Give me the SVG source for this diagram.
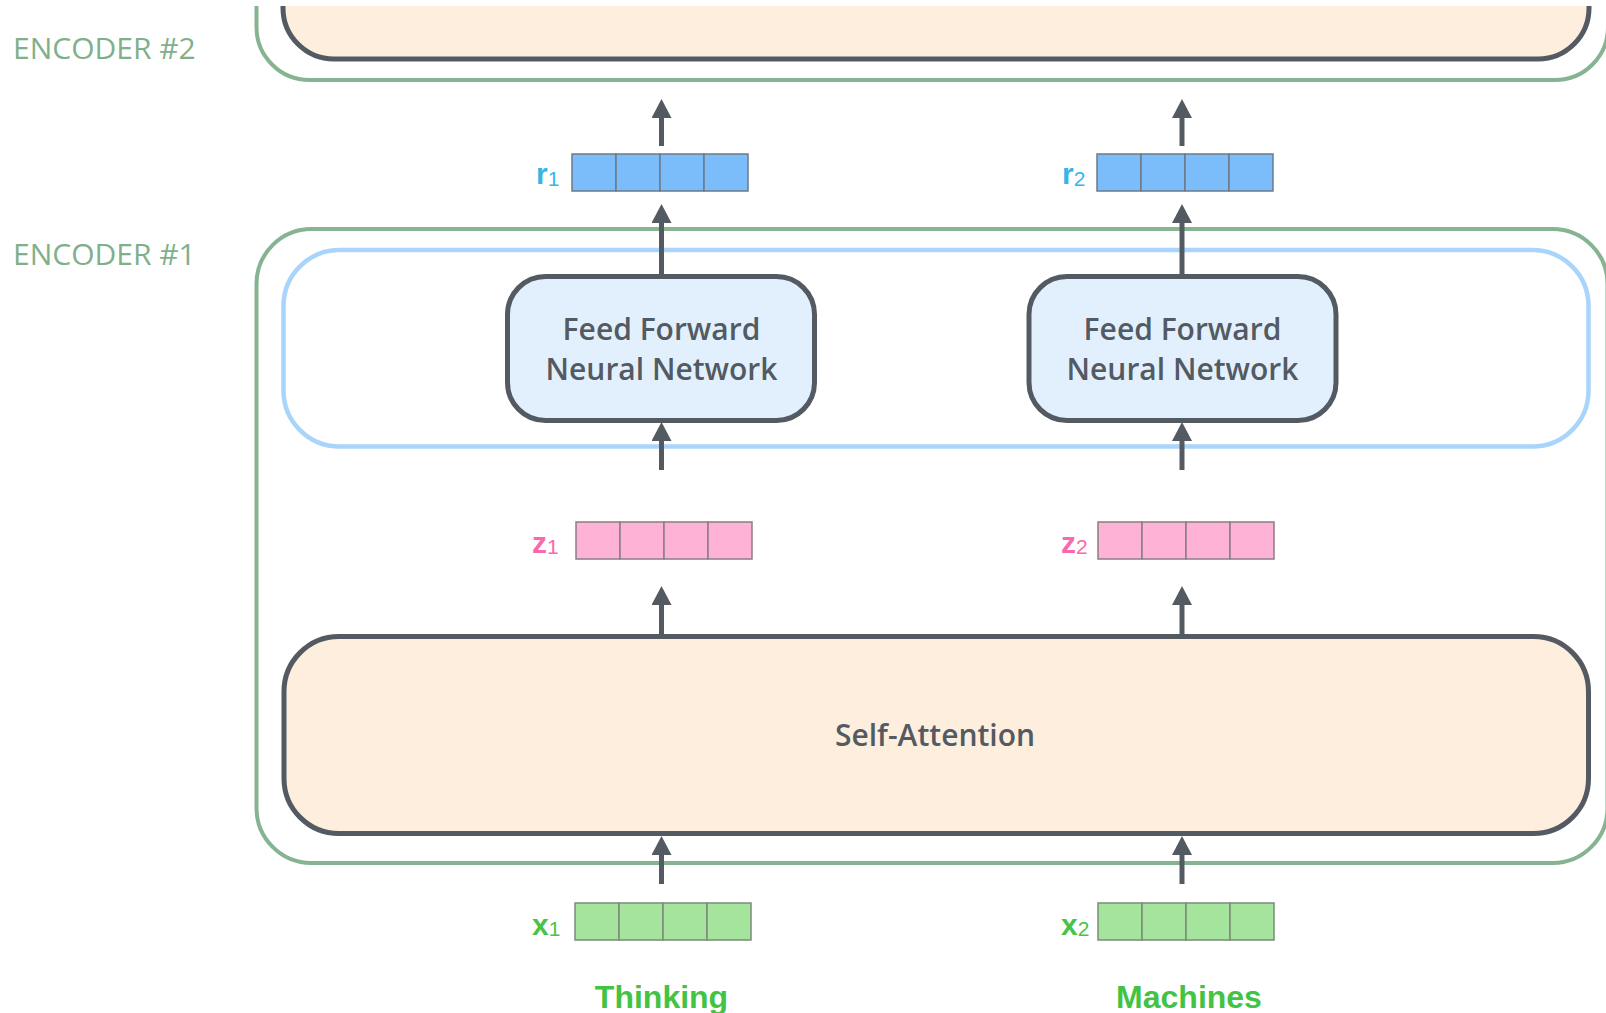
<svg xmlns="http://www.w3.org/2000/svg" width="1606" height="1013" viewBox="0 0 1606 1013">
<defs>
<style>
.enc{font-family:"Open Sans","Liberation Sans",sans-serif;font-size:30px;fill:#80b08b}
.green{fill:none;stroke:#86b390;stroke-width:4}
.blue{fill:none;stroke:#a9d4fb;stroke-width:4.5}
.sa{fill:#feeede;stroke:#535a62;stroke-width:5}
.ff{fill:#e2f0fd;stroke:#535a62;stroke-width:5}
.lbl{font-family:"Open Sans","Liberation Sans",sans-serif;font-weight:600;font-size:30px;fill:#535a62;text-anchor:middle}
.cellr{fill:#7abdfa;stroke:#6f7a86;stroke-width:1.5}
.cellz{fill:#feb2d6;stroke:#8a7d84;stroke-width:1.5}
.cellx{fill:#a5e49d;stroke:#7b8a7a;stroke-width:1.5}
.arr{stroke:#535a62;stroke-width:5;fill:none}
.vl{font-family:"Liberation Sans",Arial,sans-serif;font-weight:bold;font-size:30px}
.sub{font-weight:normal;font-size:21px}
.word{font-family:"Liberation Sans",Arial,sans-serif;font-weight:bold;font-size:32px;fill:#43c343;text-anchor:middle}
</style>
<marker id="ah" markerUnits="userSpaceOnUse" markerWidth="22" markerHeight="22" refX="1" refY="10" orient="auto">
<path d="M0,0 L19,10 L0,20 Z" fill="#535a62"/>
</marker>
<g id="cells4r"><rect class="cellr" x="0" y="0" width="44" height="37"/><rect class="cellr" x="44" y="0" width="44" height="37"/><rect class="cellr" x="88" y="0" width="44" height="37"/><rect class="cellr" x="132" y="0" width="44" height="37"/></g>
<g id="cells4z"><rect class="cellz" x="0" y="0" width="44" height="37"/><rect class="cellz" x="44" y="0" width="44" height="37"/><rect class="cellz" x="88" y="0" width="44" height="37"/><rect class="cellz" x="132" y="0" width="44" height="37"/></g>
<g id="cells4x"><rect class="cellx" x="0" y="0" width="44" height="37"/><rect class="cellx" x="44" y="0" width="44" height="37"/><rect class="cellx" x="88" y="0" width="44" height="37"/><rect class="cellx" x="132" y="0" width="44" height="37"/></g>
</defs>
<rect width="1606" height="1013" fill="#ffffff"/>

<g id="encoder2">
<path class="green" d="M256.5,6 V27 A53,53 0 0 0 309.5,80 H1555 A53,53 0 0 0 1608,27 V6"/>
<path class="sa" d="M283,6 V8 A51,51 0 0 0 334,59 H1538 A51,51 0 0 0 1589,8 V6"/>
<text class="enc" x="13" y="59">ENCODER #2</text>
</g>

<g id="encoder1">
<rect class="green" x="256.5" y="229" width="1351" height="634" rx="55" ry="55"/>
<text class="enc" x="13" y="265">ENCODER #1</text>
</g>

<g id="ffn-layer">
<rect class="blue" x="283.5" y="250" width="1305" height="196.5" rx="56" ry="56"/>
</g>

<g id="ffn1">
<rect class="ff" x="507.5" y="276.5" width="307" height="144" rx="38" ry="38"/>
<text class="lbl" x="661.5" y="340">Feed Forward</text>
<text class="lbl" x="661.5" y="380">Neural Network</text>
</g>
<g id="ffn2">
<rect class="ff" x="1029" y="276.5" width="307" height="144" rx="38" ry="38"/>
<text class="lbl" x="1182.5" y="340">Feed Forward</text>
<text class="lbl" x="1182.5" y="380">Neural Network</text>
</g>

<g id="self-attention">
<rect class="sa" x="284" y="636.5" width="1304.5" height="197" rx="55" ry="55"/>
<text class="lbl" x="935" y="746">Self-Attention</text>
</g>

<g id="r1">
<use href="#cells4r" x="572" y="154"/>
<text class="vl" x="536" y="184" fill="#36b6e6">r<tspan class="sub" dy="2">1</tspan></text>
</g>
<g id="r2">
<use href="#cells4r" x="1097" y="154"/>
<text class="vl" x="1062" y="184" fill="#36b6e6">r<tspan class="sub" dy="2">2</tspan></text>
</g>
<g id="z1">
<use href="#cells4z" x="576" y="522"/>
<text class="vl" x="532" y="553" fill="#fb68ab">z<tspan class="sub" dy="1">1</tspan></text>
</g>
<g id="z2">
<use href="#cells4z" x="1098" y="522"/>
<text class="vl" x="1061" y="553" fill="#fb68ab">z<tspan class="sub" dy="1">2</tspan></text>
</g>
<g id="x1">
<use href="#cells4x" x="575" y="903"/>
<text class="vl" x="532" y="935" fill="#47c447">x<tspan class="sub" dy="1">1</tspan></text>
</g>
<g id="x2">
<use href="#cells4x" x="1098" y="903"/>
<text class="vl" x="1061" y="935" fill="#47c447">x<tspan class="sub" dy="1">2</tspan></text>
</g>

<g id="word1"><text class="word" x="661.5" y="1008">Thinking</text></g>
<g id="word2"><text class="word" x="1189" y="1008">Machines</text></g>

<g id="connectors">
<line class="arr" x1="661.5" y1="884" x2="661.5" y2="854" marker-end="url(#ah)"/>
<line class="arr" x1="1182" y1="884" x2="1182" y2="854" marker-end="url(#ah)"/>
<line class="arr" x1="661.5" y1="634" x2="661.5" y2="604" marker-end="url(#ah)"/>
<line class="arr" x1="1182" y1="634" x2="1182" y2="604" marker-end="url(#ah)"/>
<line class="arr" x1="661.5" y1="470" x2="661.5" y2="440" marker-end="url(#ah)"/>
<line class="arr" x1="1182" y1="470" x2="1182" y2="440" marker-end="url(#ah)"/>
<line class="arr" x1="661.5" y1="276" x2="661.5" y2="222" marker-end="url(#ah)"/>
<line class="arr" x1="1182" y1="276" x2="1182" y2="222" marker-end="url(#ah)"/>
<line class="arr" x1="661.5" y1="146" x2="661.5" y2="117" marker-end="url(#ah)"/>
<line class="arr" x1="1182" y1="146" x2="1182" y2="117" marker-end="url(#ah)"/>
</g>
</svg>
